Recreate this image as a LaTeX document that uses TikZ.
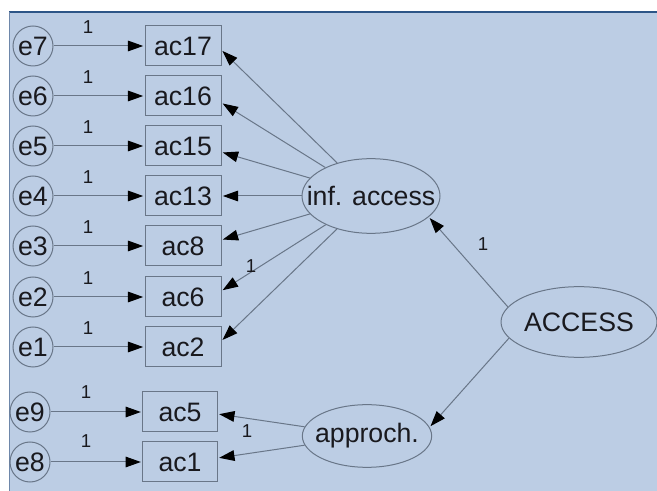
\documentclass[tikz,border=0pt]{standalone}
\usepackage{fontspec}
\setmainfont{Liberation Sans}
\usetikzlibrary{shapes.geometric,arrows.meta}

\definecolor{bgblue}{RGB}{188,205,228}
\definecolor{framecol}{RGB}{45,85,135}
\definecolor{sidecol}{RGB}{110,135,170}
\definecolor{linegray}{RGB}{105,118,136}
\definecolor{txtcol}{RGB}{25,25,30}

\tikzset{every picture/.style={line width=0.75pt}}
\tikzset{
  errcirc/.style={circle, draw=linegray, minimum size=30pt, inner sep=0pt, text=txtcol, font=\fontsize{20}{22}\selectfont},
  obsbox/.style={rectangle, draw=linegray, minimum width=57pt, minimum height=30pt, inner sep=0pt, text=txtcol, font=\fontsize{20}{22}\selectfont},
  latent/.style={ellipse, draw=linegray, inner sep=0pt, text=txtcol, font=\fontsize{20}{22}\selectfont},
  path1/.style={draw=linegray, shorten >=1pt, -{Triangle[length=11.5pt,width=8pt,black]}},
  weight/.style={inner sep=0pt, text=txtcol, font=\fontsize{14}{16}\selectfont}
}

\begin{document}
\begin{tikzpicture}[x=0.75pt,y=0.75pt,yscale=-1,xscale=1]
		\useasboundingbox (0,0) rectangle (657,491);
		
		%Shape: Background
		\fill[bgblue] (9,12) rectangle (657,491);
		\draw[framecol, line width=1.5pt] (9,12) -- (657,12);
		\draw[sidecol] (9,12) -- (9,491);
		
		% Latent variables
		\node[latent, minimum width=103.5pt, minimum height=56pt] (inf) at (371,196) {\makebox[0pt]{inf. access}};
		\node[latent, minimum width=97pt, minimum height=47pt] (approch) at (367,436) {\makebox[0pt]{approch.}};
		\node[latent, minimum width=117pt, minimum height=53pt] (access) at (579,322) {\makebox[0pt]{ACCESS}};
		
		% Observed variables
		\node[obsbox] (ac17) at (183,46) {ac17};
		\node[obsbox] (ac16) at (183,96) {ac16};
		\node[obsbox] (ac15) at (183,146) {ac15};
		\node[obsbox] (ac13) at (183,196) {ac13};
		\node[obsbox] (ac8) at (183,246) {ac8};
		\node[obsbox] (ac6) at (183,297) {ac6};
		\node[obsbox] (ac2) at (183,347) {ac2};
		\node[obsbox, minimum width=56pt] (ac5) at (180,412) {ac5};
		\node[obsbox, minimum width=56pt] (ac1) at (180,462) {ac1};
		
		% Error terms
		\node[errcirc] (e7) at (33,46) {e7};
		\node[errcirc] (e6) at (33,96) {e6};
		\node[errcirc] (e5) at (33,146) {e5};
		\node[errcirc] (e4) at (33,196) {e4};
		\node[errcirc] (e3) at (33,246) {e3};
		\node[errcirc] (e2) at (33,297) {e2};
		\node[errcirc] (e1) at (33,347) {e1};
		\node[errcirc] (e9) at (30,412) {e9};
		\node[errcirc] (e8) at (30,462) {e8};
		
		%Straight Lines: errors
		\draw[path1] (e7) -- (ac17);
		\draw[path1] (e6) -- (ac16);
		\draw[path1] (e5) -- (ac15);
		\draw[path1] (e4) -- (ac13);
		\draw[path1] (e3) -- (ac8);
		\draw[path1] (e2) -- (ac6);
		\draw[path1] (e1) -- (ac2);
		\draw[path1] (e9) -- (ac5);
		\draw[path1] (e8) -- (ac1);
		
		%Straight Lines: loadings
		\draw[path1] (inf) -- (ac17.-6);
		\draw[path1] (inf) -- (ac16.-10);
		\draw[path1] (inf) -- (ac15.-9);
		\draw[path1] (inf) -- (ac13.0);
		\draw[path1] (inf) -- (ac8.9);
		\draw[path1] (inf) -- (ac6.9);
		\draw[path1] (inf) -- (ac2.9);
		\draw[path1] (approch) -- (ac5.-3);
		\draw[path1] (approch) -- (ac1.6);
		\draw[path1] (access.168) -- (inf.-20);
		\draw[path1] (access.-167) -- (approch.8);
		
		% Text Node
		\node[weight] (w7) at (88,27) {1};
		\node[weight] (w6) at (88,77) {1};
		\node[weight] (w5) at (88,127) {1};
		\node[weight] (w4) at (88,177) {1};
		\node[weight] (w3) at (88,227) {1};
		\node[weight] (w2) at (88,278) {1};
		\node[weight] (w1) at (88,328) {1};
		\node[weight] (w9) at (86,392) {1};
		\node[weight] (w8) at (86,441) {1};
		\node[weight] (wac6) at (251,266) {1};
		\node[weight] (wac5) at (247,431) {1};
		\node[weight] (winf) at (483,244) {1};
\end{tikzpicture}
\end{document}
